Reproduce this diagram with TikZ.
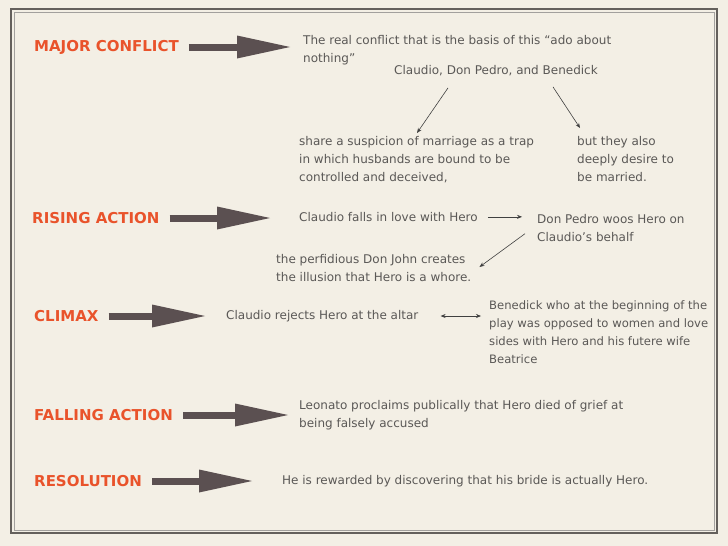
\documentclass[tikz,border=0pt]{standalone}
\usepackage{fontspec}
\setmainfont{DejaVu Sans}
\usepackage{xcolor}
\usepackage{tikz}
\usetikzlibrary{arrows.meta, positioning}
\definecolor{paper}{RGB}{243,239,229}
\definecolor{heading}{RGB}{233,83,43}
\definecolor{inkgray}{RGB}{90,88,86}
\definecolor{arrowgray}{RGB}{91,80,81}
\definecolor{framegray}{RGB}{100,96,92}

\begin{document}
\begin{tikzpicture}[x=1pt, y=-1pt,
  stage/.style={font=\fontsize{15}{17}\selectfont\bfseries, text=heading,
                anchor=west, inner sep=0pt},
  note/.style={font=\fontsize{12}{18}\selectfont, text=inkgray,
               anchor=north west, align=left, inner sep=0pt},
  fat/.style={draw=arrowgray, line width=7pt,
              -{Triangle[length=53pt, width=23pt, line width=0pt]}},
  arr/.style={-{Stealth[length=5pt, width=4pt]}, draw=black!75, semithick}
]
  % Paper and frame
  \fill[paper] (0,0) rectangle (728,546);
  \draw[framegray, line width=1.3pt] (11,9) rectangle (717,533);
  \draw[framegray!60, line width=0.5pt] (14,12) rectangle (714,530);

  % Left column — plot stages
  \node[stage] (mc) at (34,47)  {MAJOR CONFLICT};
  \node[stage] (ra) at (32,218) {RISING ACTION};
  \node[stage] (cl) at (34,316) {CLIMAX};
  \node[stage] (fa) at (34,415) {FALLING ACTION};
  \node[stage] (rs) at (34,481) {RESOLUTION};

  % Major conflict
  \node[note] (basis)  at (303,35)  {The real conflict that is the basis of this “ado about\\nothing”};
  \node[note] (trio)   at (394,65)  {Claudio, Don Pedro, and Benedick};
  \node[note] (trap)   at (299,136) {share a suspicion of marriage as a trap\\in which husbands are bound to be\\controlled and deceived,};
  \node[note] (desire) at (577,136) {but they also\\deeply desire to\\be married.};

  % Rising action
  \node[note] (falls) at (299,212) {Claudio falls in love with Hero};
  \node[note] (woos)  at (537,214) {Don Pedro woos Hero on\\Claudio’s behalf};
  \node[note] (john)  at (276,254) {the perfidious Don John creates\\the illusion that Hero is a whore.};

  % Climax
  \node[note] (rejects)  at (226,310) {Claudio rejects Hero at the altar};
  \node[note, font=\fontsize{11.6}{18}\selectfont] (benedick) at (489,300)
    {Benedick who at the beginning of the\\play was opposed to women and love\\sides with Hero and his futere wife\\Beatrice};

  % Falling action and resolution
  \node[note] (leonato) at (299,400) {Leonato proclaims publically that Hero died of grief at\\being falsely accused};
  \node[note] (reward)  at (282,475) {He is rewarded by discovering that his bride is actually Hero.};

  % Big arrows
  \draw[fat, shorten <=10pt, shorten >=13pt] (mc.east) -- (mc.east -| basis.west);
  \draw[fat, shorten <=10pt, shorten >=29pt] (ra.east) -- (ra.east -| falls.west);
  \draw[fat, shorten <=10pt, shorten >=21pt] (cl.east) -- (cl.east -| rejects.west);
  \draw[fat, shorten <=10pt, shorten >=11pt] (fa.east) -- (fa.east -| leonato.west);
  \draw[fat, shorten <=10pt, shorten >=30pt] (rs.east) -- (rs.east -| reward.west);

  % Thin arrows
  \draw[arr] ([xshift=54pt, yshift=-12pt]trio.south west) -- ([xshift=118pt, yshift=3pt]trap.north west);
  \draw[arr] ([xshift=159pt, yshift=-11pt]trio.south west) -- ([xshift=3pt, yshift=8pt]desire.north west);
  \draw[arr, shorten <=10pt, shorten >=15pt] (falls.east) -- (falls.east -| woos.west);
  \draw[arr] ([xshift=-12pt, yshift=8pt]woos.south west) -- ([xshift=8pt, yshift=-13pt]john.north east);
  \draw[arr, {Stealth[length=5pt, width=4pt]}-{Stealth[length=5pt, width=4pt]},
        shorten <=22pt, shorten >=8pt] (rejects.east) -- (rejects.east -| benedick.west);
\end{tikzpicture}
\end{document}
